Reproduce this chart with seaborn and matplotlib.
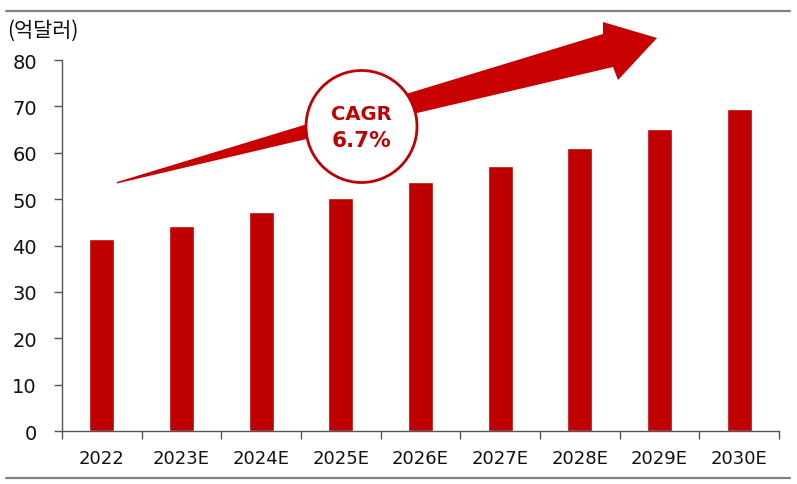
import matplotlib
matplotlib.use("Agg")
import matplotlib.pyplot as plt
import seaborn as sns
import pandas as pd
from matplotlib.patches import Polygon, Ellipse
from matplotlib.lines import Line2D

categories = ["2022", "2023E", "2024E", "2025E", "2026E", "2027E", "2028E", "2029E", "2030E"]
values = [41.5, 44.2, 47.2, 50.3, 53.7, 57.2, 61.0, 65.2, 69.5]
y_ticks = [0, 10, 20, 30, 40, 50, 60, 70, 80]
unit_label = "(억달러)"
cagr_title = "CAGR"
cagr_value = "6.7%"

sns.set_theme(style="white")
plt.rcParams["font.family"] = ["DejaVu Sans", "Noto Sans CJK KR"]

W, H = 797, 485
fig = plt.figure(figsize=(W / 100, H / 100), dpi=100)
ax = fig.add_axes([62 / W, 1 - 432 / H, (779 - 62) / W, (432 - 61) / H])

df = pd.DataFrame({"year": categories, "value": values})
red = "#c00000"
sns.barplot(data=df, x="year", y="value", color=red, saturation=1, width=0.31, ax=ax)

ax.set_xlim(-0.5, len(categories) - 0.5)
ax.set_ylim(0, 80)
ax.set_yticks(y_ticks)
ax.set_xlabel("")
ax.set_ylabel("")

# category boundaries as tick marks, labels at centers
ax.set_xticks([i - 0.5 for i in range(len(categories) + 1)])
ax.set_xticklabels([])
ax.set_xticks(range(len(categories)), minor=True)
ax.set_xticklabels(categories, minor=True)
ax.tick_params(axis="x", which="major", direction="out", length=6, width=1, color="#555555", bottom=True)
ax.tick_params(axis="x", which="minor", length=0, labelsize=13, pad=13, labelcolor="#111111", bottom=True)
ax.tick_params(axis="y", direction="out", length=6, width=1, color="#555555", labelsize=14, pad=12, labelcolor="#111111", left=True)

for s in ["top", "right"]:
    ax.spines[s].set_visible(False)
for s in ["left", "bottom"]:
    ax.spines[s].set_color("#555555")
    ax.spines[s].set_linewidth(1)

def fp(x, y):
    return (x / W, 1 - y / H)

# header/footer rules
fig.add_artist(Line2D([6 / W, 790 / W], [1 - 12 / H, 1 - 12 / H], color="#808080", lw=1.6))
fig.add_artist(Line2D([6 / W, 790 / W], [1 - 479 / H, 1 - 479 / H], color="#808080", lw=1.6))

fig.text(7 / W, 1 - 31 / H, unit_label, fontsize=15, color="#111111", va="center", ha="left",
         family=["Noto Sans CJK KR", "DejaVu Sans"])

# trend arrow
arrow_pts = [fp(117, 183), fp(603, 35), fp(603, 23), fp(657, 39), fp(618, 81), fp(613, 68), fp(117, 184.5)]
fig.add_artist(Polygon(arrow_pts, closed=True, transform=fig.transFigure, facecolor="#c80000", edgecolor="none", zorder=5))

# CAGR circle
cx, cy = fp(361.5, 127.5)
fig.add_artist(Ellipse((cx, cy), 111 / W, 112 / H, transform=fig.transFigure,
                       facecolor="white", edgecolor="#c00000", lw=2, zorder=6))
fig.text(361.5 / W, 1 - 114 / H, cagr_title, fontsize=14, fontweight="bold", color="#c00000",
         ha="center", va="center", zorder=7)
fig.text(361.5 / W, 1 - 141 / H, cagr_value, fontsize=15.5, fontweight="bold", color="#c00000",
         ha="center", va="center", zorder=7)

fig.savefig("out.png", dpi=100)
